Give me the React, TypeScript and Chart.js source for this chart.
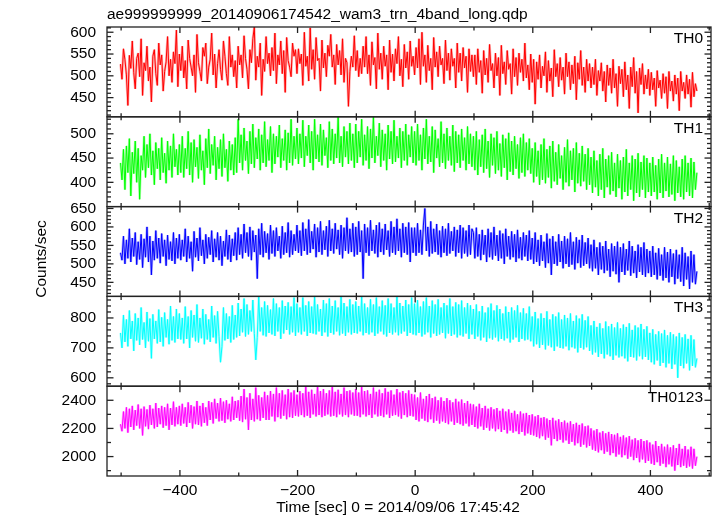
import React, { useEffect, useRef } from "react";
import { Chart, registerables } from "chart.js";

Chart.register(...registerables);

const TITLE = "ae999999999_20140906174542_wam3_trn_4band_long.qdp";
const X_TITLE = "Time [sec] 0 = 2014/09/06 17:45:42";
const Y_TITLE = "Counts/sec";

// time bins: T_START + i*T_STEP (seconds from 2014/09/06 17:45:42)
const T_START = -501;
const T_STEP = 2.5;

const PANEL_NAMES = ["TH0", "TH1", "TH2", "TH3", "TH0123"];
const PANEL_COLORS = ["#ff0000", "#00ff00", "#0000ff", "#00ffff", "#ff00ff"];
const PANEL_HALO = ["rgba(255,0,0,0.3)", "rgba(0,255,0,0.3)", "rgba(0,0,255,0.3)", "rgba(0,255,255,0.3)", "rgba(255,0,255,0.3)"];
const Y_MIN = [406, 350, 412, 572, 1862];
const Y_MAX = [612, 535, 655, 872, 2500];
const Y_LABELS = [
  [450, 500, 550, 600],
  [400, 450, 500],
  [450, 500, 550, 600, 650],
  [600, 700, 800],
  [2000, 2200, 2400],
];
const Y_MAJOR = [50, 50, 50, 100, 200];
const Y_MINOR = [10, 10, 10, 20, 100];
const X_MIN = -524;
const X_MAX = 503;
const X_LABELS = [-400, -200, 0, 200, 400];

const TH0 = [
  527, 492, 562, 537, 502, 432, 547, 517, 580, 507, 470, 540, 552, 498, 585, 455, 530, 512, 568, 488,
  520, 440, 545, 560, 505, 478, 575, 525, 548, 465, 510, 532, 590, 500, 538, 485, 555, 528, 605, 475,
  550, 512, 568, 495, 535, 470, 582, 540, 520, 500, 548, 462, 595, 530, 510, 488, 565, 545, 575, 482,
  520, 538, 598, 502, 550, 472, 528, 560, 515, 490, 580, 545, 505, 478, 590, 520, 548, 498, 535, 472,
  568, 525, 548, 495, 592, 540, 515, 470, 560, 530, 585, 612, 490, 545, 520, 575, 455, 538, 510, 590,
  528, 552, 500, 565, 512, 598, 482, 548, 525, 580, 505, 558, 462, 588, 535, 520, 498, 575, 545, 560,
  505, 562, 528, 550, 478, 600, 522, 545, 488, 610, 515, 560, 492, 588, 535, 540, 465, 582, 518, 552,
  498, 570, 545, 595, 520, 548, 480, 572, 525, 558, 502, 585, 485, 540, 530, 430, 510, 545, 520, 592,
  512, 558, 498, 540, 505, 568, 520, 590, 505, 548, 478, 578, 525, 542, 470, 598, 515, 552, 492, 568,
  522, 548, 468, 582, 508, 550, 488, 562, 528, 590, 500, 538, 475, 572, 518, 555, 492, 580, 522, 545,
  502, 565, 518, 585, 480, 600, 522, 548, 485, 570, 512, 540, 468, 588, 520, 555, 498, 568, 525, 540,
  482, 582, 512, 552, 490, 562, 522, 540, 472, 575, 508, 552, 488, 565, 518, 545, 462, 562, 510, 548,
  498, 548, 480, 562, 508, 535, 460, 558, 502, 540, 485, 572, 512, 528, 472, 552, 500, 542, 455, 570,
  505, 532, 480, 558, 515, 528, 458, 562, 498, 542, 478, 552, 508, 538, 488, 575, 495, 525, 468, 550,
  485, 538, 435, 532, 492, 548, 472, 522, 500, 555, 462, 535, 488, 518, 452, 560, 498, 528, 475, 542,
  490, 520, 458, 552, 498, 532, 468, 525, 482, 545, 445, 530, 492, 558, 478, 520, 462, 538, 488, 528,
  472, 520, 480, 538, 455, 512, 488, 530, 465, 510, 440, 525, 478, 518, 460, 538, 472, 505, 430, 522,
  482, 515, 452, 532, 468, 502, 425, 520, 475, 542, 460, 510, 415, 518, 480, 528, 458, 502, 470, 515,
  455, 508, 468, 495, 430, 512, 472, 490, 448, 505, 460, 498, 425, 510, 465, 488, 442, 502, 458, 495,
  420, 510, 465, 485, 448, 502, 458, 492, 428, 508, 452, 482, 465,
];

const TH1 = [
  440, 405, 468, 385, 475, 420, 490, 372, 462, 418, 485, 400, 470, 365, 455, 425, 495, 410, 478, 430,
  500, 415, 465, 395, 482, 428, 470, 405, 492, 420, 460, 398, 485, 425, 475, 410, 500, 432, 468, 415,
  478, 420, 495, 410, 470, 428, 505, 415, 482, 400, 488, 432, 472, 408, 498, 425, 465, 395, 490, 430,
  510, 418, 478, 435, 495, 405, 472, 428, 488, 412, 500, 430, 468, 402, 485, 425, 478, 415, 492, 420,
  530, 440, 498, 425, 512, 445, 485, 418, 505, 438, 520, 430, 492, 448, 510, 425, 498, 440, 525, 432,
  488, 445, 515, 420, 500, 438, 495, 452, 518, 430, 490, 445, 508, 425, 502, 440, 530, 435, 495, 448,
  512, 438, 500, 450, 528, 432, 495, 455, 518, 440, 505, 425, 530, 448, 498, 442, 520, 435, 508, 455,
  492, 430, 525, 445, 510, 438, 500, 450, 535, 440, 495, 432, 515, 452, 505, 438, 522, 445, 500, 430,
  520, 440, 505, 452, 530, 435, 498, 445, 515, 428, 510, 450, 535, 440, 495, 455, 522, 432, 508, 445,
  500, 425, 518, 448, 505, 438, 528, 442, 495, 450, 512, 430, 505, 445, 520, 435, 498, 452, 515, 440,
  505, 435, 520, 445, 498, 425, 512, 448, 530, 438, 495, 442, 515, 420, 508, 450, 490, 432, 525, 440,
  500, 428, 512, 445, 495, 435, 518, 422, 505, 440, 498, 430, 510, 445, 492, 425, 515, 438, 500, 432,
  495, 425, 505, 415, 488, 432, 498, 420, 510, 428, 485, 410, 500, 435, 492, 418, 505, 425, 480, 412,
  498, 430, 490, 405, 502, 422, 485, 415, 495, 428, 478, 408, 492, 420, 500, 412, 482, 425, 490, 418,
  470, 400, 482, 412, 465, 395, 478, 405, 490, 398, 468, 410, 475, 388, 485, 402, 462, 395, 478, 408,
  455, 385, 472, 400, 488, 392, 465, 405, 470, 380, 482, 398, 460, 392, 475, 402, 458, 385, 470, 395,
  452, 378, 465, 390, 445, 372, 458, 385, 470, 368, 448, 390, 455, 375, 462, 382, 440, 370, 458, 388,
  445, 365, 452, 380, 468, 372, 440, 385, 455, 362, 448, 378, 460, 370, 442, 385, 455, 368, 450, 380,
  440, 372, 452, 380, 435, 365, 448, 378, 458, 368, 440, 382, 452, 370, 438, 375, 455, 362, 445, 378,
  432, 370, 448, 365, 455, 380, 440, 372, 450, 368, 442, 385, 420,
];

const TH2 = [
  530, 510, 575, 500, 565, 515, 595, 505, 570, 520, 585, 498, 560, 512, 580, 490, 568, 518, 600, 505,
  575, 470, 562, 510, 590, 515, 570, 502, 582, 520, 565, 495, 578, 512, 560, 508, 585, 500, 570, 515,
  580, 510, 565, 520, 595, 505, 575, 515, 560, 480, 588, 518, 570, 508, 598, 522, 565, 500, 580, 515,
  572, 525, 590, 505, 568, 518, 585, 510, 575, 495, 562, 520, 592, 512, 578, 505, 568, 522, 585, 510,
  598, 525, 580, 515, 608, 530, 585, 520, 600, 510, 590, 532, 578, 460, 595, 525, 610, 518, 588, 530,
  582, 512, 605, 528, 590, 520, 598, 535, 575, 515, 602, 525, 585, 530, 612, 518, 590, 525, 580, 535,
  605, 530, 590, 522, 612, 535, 595, 525, 620, 530, 588, 540, 608, 518, 598, 532, 615, 525, 590, 538,
  602, 520, 618, 535, 595, 528, 610, 540, 592, 525, 605, 515, 598, 535, 625, 528, 595, 532, 610, 520,
  600, 525, 615, 532, 590, 460, 608, 530, 598, 522, 618, 535, 592, 528, 605, 518, 612, 532, 595, 525,
  608, 538, 590, 520, 615, 530, 600, 525, 622, 535, 595, 518, 610, 530, 600, 525, 612, 505, 598, 530,
  598, 522, 610, 530, 592, 525, 605, 650, 535, 600, 520, 615, 528, 595, 532, 608, 525, 590, 518, 602,
  530, 595, 522, 610, 528, 588, 535, 600, 520, 592, 530, 605, 515, 598, 528, 590, 520, 605, 525, 595,
  585, 515, 598, 520, 580, 510, 592, 525, 578, 505, 595, 518, 585, 512, 600, 522, 578, 508, 590, 515,
  582, 500, 595, 520, 575, 512, 588, 518, 580, 505, 592, 515, 572, 510, 585, 520, 578, 508, 590, 512,
  570, 500, 585, 505, 565, 495, 578, 508, 560, 490, 582, 502, 568, 470, 575, 500, 560, 495, 580, 505,
  562, 488, 575, 500, 568, 492, 585, 498, 560, 485, 572, 502, 565, 490, 578, 495, 558, 500, 570, 488,
  552, 480, 565, 488, 545, 470, 558, 485, 548, 475, 562, 482, 540, 465, 555, 480, 548, 472, 560, 450,
  545, 478, 555, 470, 540, 482, 562, 468, 548, 475, 535, 462, 552, 478, 545, 470, 558, 465, 540, 475,
  535, 465, 548, 470, 530, 458, 542, 468, 525, 455, 545, 462, 532, 450, 540, 465, 528, 445, 538, 460,
  525, 452, 545, 440, 530, 458, 520, 432, 535, 450, 525, 445, 480,
];

const TH3 = [
  750, 700, 810, 720, 795, 705, 825, 730, 790, 690, 815, 725, 800, 710, 835, 728, 785, 700, 820, 722,
  798, 665, 812, 730, 790, 715, 828, 720, 802, 705, 818, 735, 795, 712, 840, 725, 805, 718, 830, 730,
  815, 728, 800, 715, 838, 730, 805, 700, 825, 735, 810, 722, 845, 718, 800, 732, 830, 712, 812, 728,
  795, 720, 840, 735, 808, 715, 822, 738, 652, 705, 835, 725, 815, 730, 805, 718, 842, 728, 810, 735,
  850, 740, 830, 752, 865, 738, 845, 745, 825, 755, 860, 748, 660, 735, 870, 755, 835, 742, 855, 738,
  842, 750, 828, 745, 865, 740, 848, 755, 835, 730, 858, 748, 840, 760, 852, 745, 838, 752, 868, 740,
  848, 752, 835, 745, 868, 755, 842, 740, 855, 750, 838, 748, 872, 745, 845, 755, 830, 740, 860, 752,
  848, 738, 865, 750, 840, 745, 858, 755, 835, 742, 870, 748, 850, 740, 838, 752, 862, 745, 845, 750,
  855, 748, 840, 755, 870, 742, 848, 750, 835, 745, 862, 752, 845, 740, 868, 748, 838, 755, 858, 745,
  842, 738, 865, 750, 848, 745, 835, 752, 870, 742, 850, 748, 840, 755, 860, 740, 845, 750, 868, 745,
  848, 742, 860, 750, 838, 738, 855, 745, 868, 752, 840, 735, 858, 748, 845, 740, 862, 745, 835, 750,
  850, 732, 842, 748, 865, 740, 838, 745, 852, 735, 845, 742, 858, 738, 835, 748, 850, 730, 842, 745,
  830, 730, 845, 738, 822, 725, 840, 735, 818, 720, 835, 732, 848, 728, 825, 735, 842, 722, 830, 730,
  815, 725, 838, 732, 820, 718, 835, 728, 825, 735, 842, 720, 818, 730, 832, 725, 815, 728, 838, 722,
  805, 705, 820, 712, 798, 700, 815, 710, 800, 695, 822, 708, 795, 702, 812, 690, 805, 705, 818, 700,
  795, 698, 810, 705, 800, 692, 815, 702, 790, 698, 808, 685, 798, 700, 812, 695, 792, 702, 805, 690,
  775, 678, 790, 685, 770, 670, 782, 680, 765, 665, 788, 678, 772, 672, 780, 660, 768, 675, 785, 668,
  765, 672, 778, 665, 770, 655, 782, 670, 760, 668, 775, 658, 768, 672, 780, 662, 762, 670, 772, 660,
  750, 652, 762, 645, 745, 658, 755, 640, 748, 650, 760, 635, 742, 648, 752, 630, 745, 645, 738, 600,
  750, 640, 735, 632, 745, 648, 730, 625, 742, 640, 728, 635, 665,
];

const TH0123 = [
  2230, 2180, 2320, 2200, 2350, 2170, 2340, 2210, 2360, 2190, 2330, 2220, 2370, 2200, 2340, 2150, 2355, 2215, 2335, 2195,
  2365, 2225, 2340, 2200, 2380, 2210, 2345, 2230, 2360, 2205, 2350, 2220, 2375, 2190, 2345, 2225, 2390, 2215, 2350, 2230,
  2360, 2220, 2375, 2235, 2350, 2210, 2385, 2240, 2365, 2200, 2355, 2230, 2395, 2225, 2360, 2215, 2380, 2240, 2350, 2220,
  2395, 2260, 2385, 2235, 2410, 2270, 2380, 2250, 2415, 2255, 2390, 2240, 2400, 2265, 2375, 2250, 2425, 2260, 2395, 2275,
  2400, 2255, 2430, 2245, 2480, 2265, 2420, 2190, 2450, 2260, 2410, 2250, 2490, 2265, 2435, 2255, 2420, 2275, 2460, 2260,
  2435, 2260, 2465, 2285, 2445, 2250, 2490, 2280, 2450, 2270, 2470, 2290, 2440, 2265, 2480, 2280, 2455, 2275, 2470, 2290,
  2440, 2285, 2465, 2295, 2450, 2280, 2500, 2290, 2460, 2275, 2475, 2300, 2445, 2285, 2510, 2295, 2465, 2280, 2480, 2290,
  2450, 2300, 2470, 2285, 2495, 2290, 2460, 2280, 2475, 2300, 2445, 2285, 2490, 2295, 2465, 2280, 2470, 2300, 2455, 2290,
  2480, 2290, 2455, 2280, 2495, 2300, 2465, 2285, 2470, 2295, 2445, 2275, 2490, 2300, 2460, 2285, 2475, 2290, 2450, 2280,
  2485, 2300, 2460, 2275, 2470, 2290, 2440, 2295, 2480, 2285, 2455, 2270, 2465, 2295, 2450, 2280, 2470, 2290, 2445, 2285,
  2440, 2260, 2420, 2250, 2455, 2270, 2410, 2255, 2430, 2245, 2445, 2265, 2415, 2240, 2425, 2255, 2400, 2235, 2420, 2250,
  2395, 2240, 2415, 2230, 2400, 2250, 2385, 2225, 2410, 2240, 2390, 2230, 2405, 2220, 2380, 2235, 2395, 2215, 2375, 2225,
  2370, 2210, 2355, 2200, 2375, 2215, 2345, 2190, 2360, 2205, 2340, 2185, 2350, 2200, 2335, 2180, 2345, 2195, 2325, 2175,
  2340, 2190, 2320, 2165, 2335, 2185, 2310, 2170, 2325, 2180, 2300, 2160, 2320, 2175, 2305, 2150, 2310, 2165, 2295, 2155,
  2300, 2150, 2285, 2140, 2295, 2130, 2275, 2145, 2280, 2120, 2270, 2135, 2260, 2080, 2275, 2125, 2255, 2110, 2265, 2120,
  2245, 2100, 2255, 2115, 2240, 2090, 2250, 2105, 2230, 2080, 2240, 2095, 2225, 2070, 2235, 2085, 2215, 2065, 2220, 2075,
  2200, 2050, 2185, 2040, 2195, 2030, 2170, 2045, 2180, 2020, 2165, 2035, 2175, 2010, 2160, 2025, 2155, 2000, 2165, 2015,
  2140, 1995, 2150, 2010, 2135, 1985, 2145, 2000, 2120, 1975, 2130, 1990, 2115, 1960, 2125, 1980, 2110, 1955, 2115, 1970,
  2100, 1950, 2085, 1940, 2110, 1960, 2075, 1935, 2090, 1950, 2070, 1925, 2085, 1945, 2065, 1930, 2080, 1900, 2060, 1940,
  2090, 1925, 2055, 1935, 2075, 1920, 2050, 1930, 2070, 1915, 2055, 1935, 2000,
];

const SERIES = [TH0, TH1, TH2, TH3, TH0123];

const FONT = "'Liberation Sans', Arial, Helvetica, sans-serif";
const FONT_SIZE = 15.5;
const fmt = (v: number) => (v < 0 ? "\u2212" + Math.abs(v) : String(v));

const framePlugin = {
  id: "qdpFrame",
  afterDatasetsDraw(chart: any) {
    const ctx = chart.ctx as CanvasRenderingContext2D;
    const { left, right } = chart.chartArea;
    const xs = chart.scales.x;
    ctx.save();
    ctx.strokeStyle = "#222";
    ctx.lineWidth = 1.3;
    const seg = (x1: number, y1: number, x2: number, y2: number) => {
      ctx.beginPath();
      ctx.moveTo(x1, y1);
      ctx.lineTo(x2, y2);
      ctx.stroke();
    };
    PANEL_NAMES.forEach((name, k) => {
      const ys = chart.scales["y" + k];
      const pt = ys.top;
      const pb = ys.bottom;
      ctx.strokeRect(left, pt, right - left, pb - pt);
      for (let v = -500; v <= 500; v += 100) {
        const px = xs.getPixelForValue(v);
        if (px <= left || px >= right) continue;
        const len = v % 200 === 0 ? 6 : 3.5;
        seg(px, pt, px, pt + len);
        seg(px, pb, px, pb - len);
      }
      const step = Y_MINOR[k];
      for (let v = Math.ceil(Y_MIN[k] / step) * step; v <= Y_MAX[k]; v += step) {
        const py = ys.getPixelForValue(v);
        if (py <= pt + 0.5 || py >= pb - 0.5) continue;
        const major = v % Y_MAJOR[k] === 0;
        const len = major ? 6.5 : 4;
        seg(left, py, left + len, py);
        seg(right, py, right - len, py);
      }
      ctx.fillStyle = "#000";
      ctx.font = FONT_SIZE + "px " + FONT;
      ctx.textAlign = "right";
      ctx.textBaseline = "alphabetic";
      ctx.fillText(name, right - 8, pt + 16);
    });
    ctx.fillStyle = "#000";
    ctx.font = FONT_SIZE + "px " + FONT;
    ctx.textAlign = "left";
    ctx.textBaseline = "alphabetic";
    ctx.fillText(TITLE, left, 19);
    ctx.textAlign = "center";
    ctx.fillText(X_TITLE, 398, 512);
    ctx.save();
    ctx.translate(46, 259);
    ctx.rotate(-Math.PI / 2);
    ctx.fillText(Y_TITLE, 0, 0);
    ctx.restore();
    ctx.restore();
  },
};

export default function App() {
  const ref = useRef<HTMLCanvasElement | null>(null);
  useEffect(() => {
    if (!ref.current) return;
    Chart.defaults.font.family = FONT;
    const datasets: any[] = [];
    SERIES.forEach((arr, k) => {
      const pts = arr.map((y, i) => ({ x: T_START + i * T_STEP, y }));
      datasets.push({
        data: pts,
        yAxisID: "y" + k,
        borderColor: PANEL_COLORS[k],
        borderWidth: 1,
        pointRadius: 0,
        tension: 0,
        order: 0,
      });
      datasets.push({
        data: pts,
        yAxisID: "y" + k,
        borderColor: PANEL_HALO[k],
        borderWidth: 2.5,
        borderJoinStyle: "bevel",
        pointRadius: 0,
        tension: 0,
        order: 1,
      });
    });
    const scales: any = {
      x: {
        type: "linear",
        position: "bottom",
        min: X_MIN,
        max: X_MAX,
        grid: { display: false, drawTicks: false },
        border: { display: false },
        afterBuildTicks: (s: any) => {
          s.ticks = X_LABELS.map((v) => ({ value: v }));
        },
        afterFit: (s: any) => {
          s.height = 40;
        },
        ticks: {
          autoSkip: false,
          maxRotation: 0,
          padding: 5,
          color: "#000",
          font: { size: FONT_SIZE, family: FONT },
          callback: (v: any) => fmt(Number(v)),
        },
      },
    };
    PANEL_NAMES.forEach((_, k) => {
      scales["y" + k] = {
        type: "linear",
        position: "left",
        stack: "panels",
        stackWeight: 1,
        weight: 5 - k,
        min: Y_MIN[k],
        max: Y_MAX[k],
        grid: { display: false, drawTicks: false },
        border: { display: false },
        afterBuildTicks: (s: any) => {
          s.ticks = Y_LABELS[k].map((v) => ({ value: v }));
        },
        afterFit: (s: any) => {
          s.width = 107;
        },
        ticks: {
          autoSkip: false,
          padding: 11,
          color: "#000",
          font: { size: FONT_SIZE, family: FONT },
          callback: (v: any) => fmt(Number(v)),
        },
      };
    });
    const chart = new Chart(ref.current, {
      type: "line",
      data: { datasets },
      options: {
        responsive: false,
        animation: false,
        devicePixelRatio: 1,
        layout: { padding: { left: 0, top: 27, right: 6, bottom: 0 } },
        plugins: { legend: { display: false }, tooltip: { enabled: false }, title: { display: false } },
        scales,
        events: [],
      } as any,
      plugins: [framePlugin],
    });
    return () => chart.destroy();
  }, []);
  return (
    <div style={{ position: "absolute", left: 0, top: 0, width: 717, height: 516, background: "#fff" }}>
      <canvas ref={ref} width={717} height={516} />
    </div>
  );
}
